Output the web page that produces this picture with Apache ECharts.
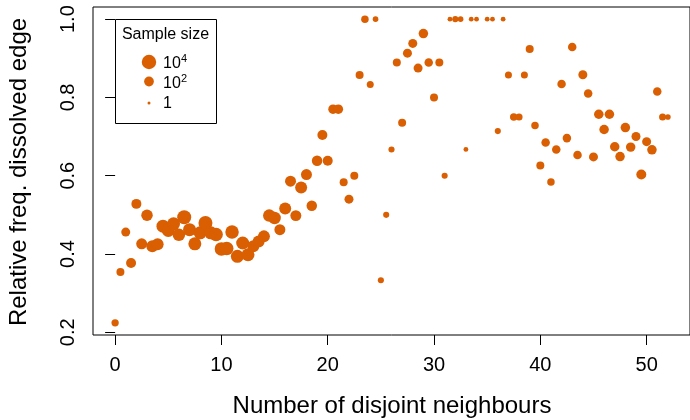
<!DOCTYPE html>
<html>
<head>
<meta charset="utf-8">
<script src="https://cdn.jsdelivr.net/npm/echarts@6/dist/echarts.min.js"></script>
<style>html,body{margin:0;padding:0;background:#fff}#c{width:690px;height:420px}</style>
</head>
<body>
<div id="c"></div>
<script>
// Number of disjoint neighbours (x)
const neighbours = [0,0.5,1,1.5,2,2.5,3,3.5,4,4.5,5,5.5,6,6.5,7,7.5,8,8.5,9,9.5,
  10,10.5,11,11.5,12,12.5,13,13.5,14,14.5,15,15.5,16,16.5,17,17.5,18,18.5,19,19.5,
  20,20.5,21,21.5,22,22.5,23,23.5,24,24.5,25,25.5,26,26.5,27,27.5,28,28.5,29,29.5,
  30,30.5,31,31.5,32,32.5,33,33.5,34,35,35.5,36,36.5,37,37.5,38,38.5,39,39.5,
  40,40.5,41,41.5,42,42.5,43,43.5,44,44.5,45,45.5,46,46.5,47,47.5,48,48.5,49,49.5,
  50,50.5,51,51.5,52];
// Relative frequency of dissolved edge (y)
const relFreq = [0.224,0.354,0.456,0.377,0.528,0.426,0.499,0.420,0.425,0.471,
  0.460,0.477,0.449,0.494,0.462,0.426,0.454,0.479,0.454,0.450,
  0.413,0.414,0.456,0.394,0.428,0.398,0.420,0.432,0.445,0.498,
  0.492,0.462,0.516,0.586,0.498,0.570,0.603,0.523,0.638,0.704,
  0.638,0.770,0.770,0.583,0.540,0.600,0.857,1.0,0.833,1.0,
  0.333,0.500,0.667,0.889,0.735,0.913,0.938,0.875,0.963,0.889,
  0.800,0.889,0.600,1.0,1.0,1.0,0.667,1.0,1.0,1.0,1.0,0.714,1.0,
  0.857,0.750,0.750,0.857,0.924,0.728,
  0.626,0.685,0.584,0.667,0.834,0.696,0.929,0.653,0.858,0.810,
  0.648,0.757,0.718,0.757,0.674,0.649,0.723,0.673,0.700,0.603,
  0.687,0.666,0.815,0.750,0.750];
// Estimated sample size behind each point
const sampleSize = [16,26,55,120,120,280,440,700,700,1900,
  1900,1900,1150,5800,1900,1900,1900,5800,1900,3300,
  3300,3300,3300,1900,1900,1900,700,700,700,1150,
  1150,280,700,280,280,700,280,185,185,120,
  120,81,81,26,55,26,26,18,13,5,
  7,7,7,26,26,55,55,55,81,38,
  26,26,7,3,7,5,3,3,3,3,3,7,3,
  13,18,13,13,26,18,
  26,38,18,38,38,38,38,38,55,38,
  55,81,81,81,81,81,81,81,55,120,
  55,81,38,13,5];
const xTicks = [0,10,20,30,40,50];
const yTicks = [0.2,0.4,0.6,0.8,1.0];
const legendSizes = [10000,100,1];
const legendExp = ['4','2',''];

const ORANGE = '#D95F02';
const FONT = "'Liberation Sans', Arial, Helvetica, sans-serif";
function dotSize(n){ const L = Math.log10(n); return 3 + 3.9*L - 0.26*L*L; }

const chart = echarts.init(document.getElementById('c'), null, {renderer:'canvas'});

const graphics = [];
// axis titles
graphics.push({type:'text', x:392, y:406, style:{text:'Number of disjoint neighbours', font:'24px '+FONT, fill:'#000', align:'center', verticalAlign:'middle'}});
graphics.push({type:'text', x:19, y:172, rotation:Math.PI/2, style:{text:'Relative freq. dissolved edge', font:'24px '+FONT, fill:'#000', align:'center', verticalAlign:'middle'}});
// legend box
graphics.push({type:'rect', shape:{x:115.5, y:19.5, width:101, height:104}, style:{fill:'#fff', stroke:'#000', lineWidth:1}, z:10});
graphics.push({type:'text', x:165.5, y:35, z:11, style:{text:'Sample size', font:'16px '+FONT, fill:'#000', align:'center', verticalAlign:'middle'}});
const legY = [62, 81.5, 103];
legendSizes.forEach((n,i)=>{
  const r = dotSize(n)/2;
  graphics.push({type:'circle', shape:{cx:149, cy:legY[i], r:r}, style:{fill:ORANGE}, z:11});
  if (legendExp[i]) {
    graphics.push({type:'text', x:163, y:legY[i]+2, z:11, style:{text:'10', font:'16px '+FONT, fill:'#000', align:'left', verticalAlign:'middle'}});
    graphics.push({type:'text', x:181, y:legY[i]-3, z:11, style:{text:legendExp[i], font:'11px '+FONT, fill:'#000', align:'left', verticalAlign:'middle'}});
  } else {
    graphics.push({type:'text', x:163, y:legY[i]+1, z:11, style:{text:'1', font:'16px '+FONT, fill:'#000', align:'left', verticalAlign:'middle'}});
  }
});

chart.setOption({
  animation:false,
  backgroundColor:'#fff',
  grid:{left:93, top:7, width:599, height:328, show:true, borderColor:'#000', borderWidth:1, backgroundColor:'transparent'},
  xAxis:{type:'value', min:-2.08, max:54.08,
    axisLine:{show:false}, splitLine:{show:false},
    axisTick:{show:true, inside:false, length:10, lineStyle:{color:'#000', width:1}, customValues:xTicks},
    axisLabel:{show:true, customValues:xTicks, margin:20, color:'#000', fontSize:20, fontFamily:FONT}
  },
  yAxis:{type:'value', min:0.193, max:1.031,
    axisLine:{show:false}, splitLine:{show:false},
    axisTick:{show:true, inside:false, length:10, lineStyle:{color:'#000', width:1}, customValues:yTicks},
    axisLabel:{show:true, customValues:yTicks, rotate:90, margin:15, color:'#000', fontSize:20, fontFamily:FONT,
      formatter:(v)=>v.toFixed(1)}
  },
  series:[{type:'scatter', symbol:'circle',
    data: neighbours.map((x,i)=>[x, relFreq[i], sampleSize[i]]),
    symbolSize:(v)=>dotSize(v[2]),
    itemStyle:{color:ORANGE, opacity:1, borderWidth:0},
    emphasis:{disabled:true}
  }],
  graphic:graphics
});
</script>
</body>
</html>
